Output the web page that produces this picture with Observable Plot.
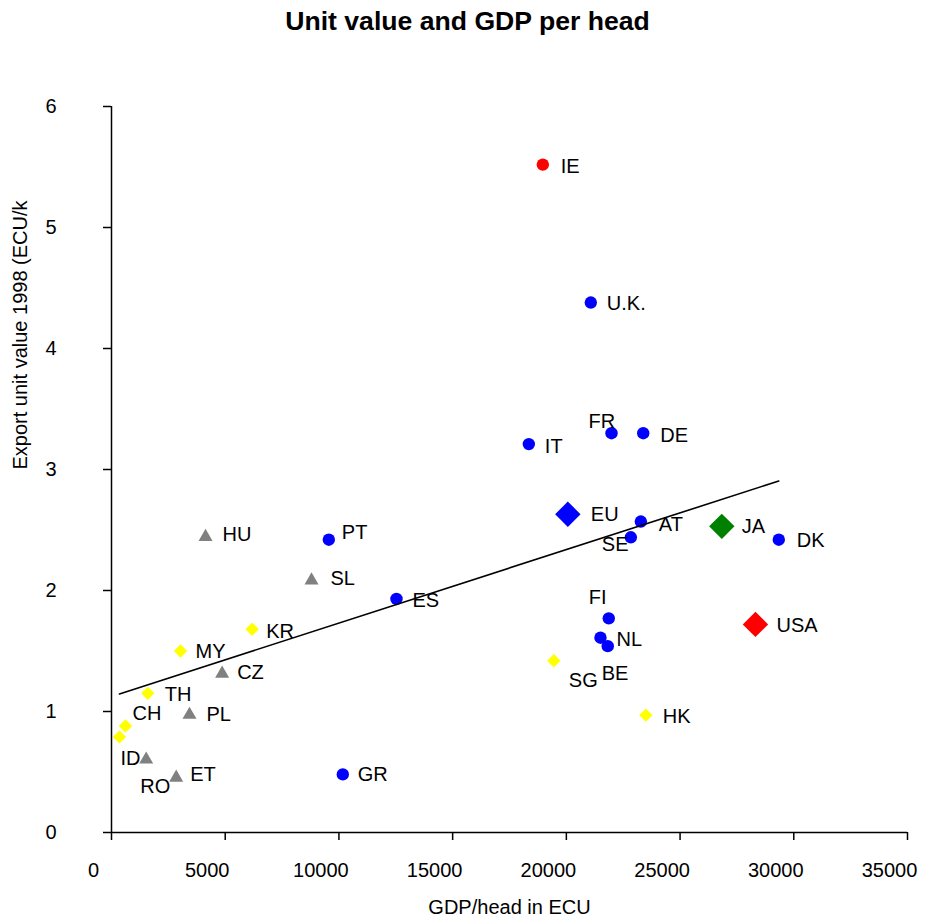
<!DOCTYPE html>
<html>
<head>
<meta charset="utf-8">
<script src="https://cdn.jsdelivr.net/npm/d3@7"></script>
<script src="https://cdn.jsdelivr.net/npm/@observablehq/plot@0.6"></script>
<style>
  html, body { margin: 0; padding: 0; background: #fff; }
  #title {
    box-sizing: border-box; height: 45px; width: 925px;
    padding-top: 8px; padding-left: 10px;
    font: bold 26.6px/26px Arial, "Liberation Sans", sans-serif;
    text-align: center; color: #000;
  }
  #chart svg { display: block; }
</style>
</head>
<body>
<div id="title">Unit value and GDP per head</div>
<div id="chart"></div>
<script>
// ---- data ----
const countries = ["U.K.","IT","FR","DE","AT","SE","DK","FI","NL","BE","PT","ES","GR",
  "IE","EU","JA","USA",
  "HU","SL","CZ","PL","RO","ET",
  "KR","MY","TH","CH","ID","SG","HK"];
const gdpPerHead = [21075,18350,21985,23380,23275,22835,29340,21865,21500,21820,9555,12530,10170,
  18965,20065,26835,28315,
  4135,8795,4865,3430,1525,2845,
  6185,3035,1595,615,350,19450,23495];
const unitValue = [4.38,3.21,3.30,3.30,2.57,2.44,2.42,1.77,1.61,1.54,2.42,1.93,0.48,
  5.52,2.63,2.53,1.72,
  2.46,2.10,1.33,0.99,0.62,0.47,
  1.68,1.50,1.15,0.88,0.79,1.42,0.97];
const groups = ["EU member","EU member","EU member","EU member","EU member","EU member","EU member",
  "EU member","EU member","EU member","EU member","EU member","EU member",
  "Ireland","EU15","Japan","USA",
  "CEEC","CEEC","CEEC","CEEC","CEEC","CEEC",
  "Asia","Asia","Asia","Asia","Asia","Asia","Asia"];
const trendGdp = [350, 29340];
const trendValue = [1.145, 2.905];
const xTicks = [0,5000,10000,15000,20000,25000,30000,35000];
const yTicks = [0,1,2,3,4,5,6];

// ---- styling / layout ----
const diamond = {draw(ctx, size) { const h = Math.sqrt(size / Math.PI);
  ctx.moveTo(0, -h); ctx.lineTo(h, 0); ctx.lineTo(0, h); ctx.lineTo(-h, 0); ctx.closePath(); }};
const triangle = {draw(ctx, size) { const s = Math.sqrt(size / Math.PI); const h = s * Math.sqrt(3);
  ctx.moveTo(0, -h / 2); ctx.lineTo(s, h / 2); ctx.lineTo(-s, h / 2); ctx.closePath(); }};
const groupStyle = {
  "EU member": {symbol: "circle", fill: "#0000ff", r: 6.2},
  "Ireland":   {symbol: "circle", fill: "#ff0000", r: 6.2},
  "EU15":      {symbol: diamond, fill: "#0000ff", r: 12.7},
  "Japan":     {symbol: diamond, fill: "#008000", r: 12.7},
  "USA":       {symbol: diamond, fill: "#ff0000", r: 12.7},
  "CEEC":      {symbol: triangle, fill: "#808080", r: 7},
  "Asia":      {symbol: diamond, fill: "#ffff00", r: 6.7}
};
const labelOffset = {
  "U.K.": [16, 1], "IT": [16, 3], "FR": [-23, -12], "DE": [17, 2], "AT": [18, 3], "SE": [-29, 7],
  "DK": [18, 1], "FI": [-20, -21], "NL": [16, 2], "BE": [-6, 27], "PT": [13, -7], "ES": [16, 2],
  "GR": [15, 0], "IE": [18, 2], "EU": [23, 0], "JA": [20, 0], "USA": [21, 1], "HU": [17, 0],
  "SL": [19, 0], "CZ": [15, 1], "PL": [17, 2], "RO": [-6, 29], "ET": [14, -1], "KR": [14, 2],
  "MY": [15, 1], "TH": [17, 1], "CH": [7, -12], "ID": [1, 22], "SG": [15, 20], "HK": [17, 1]
};

const points = countries.map((c, i) => ({country: c, gdp: gdpPerHead[i], value: unitValue[i], group: groups[i]}));
const trend = trendGdp.map((g, i) => ({gdp: g, value: trendValue[i]}));

const dotMarks = Object.keys(groupStyle).map(g => {
  const st = groupStyle[g];
  return Plot.dot(points.filter(d => d.group === g), {
    x: "gdp", y: "value", r: st.r, symbol: st.symbol, fill: st.fill, stroke: "none"
  });
});
const labelMarks = points.map(d => Plot.text([d], {
  x: "gdp", y: "value", text: "country", textAnchor: "start",
  dx: labelOffset[d.country][0], dy: labelOffset[d.country][1],
  fontSize: 20, fill: "#000", style: "letter-spacing:-1px"
}));

const chart = Plot.plot({
  width: 925, height: 877,
  marginTop: 61, marginBottom: 90, marginLeft: 111, marginRight: 18,
  style: {fontFamily: "Arial, 'Liberation Sans', sans-serif", fontSize: "20px", color: "#000", background: "#fff"},
  x: {domain: [0, 35000]},
  y: {domain: [0, 6]},
  marks: [
    Plot.ruleY([0], {stroke: "#000", strokeWidth: 1.5}),
    Plot.ruleX([0], {stroke: "#000", strokeWidth: 1.5}),
    // x tick marks (no text)
    Plot.axisX({ticks: xTicks, tickFormat: () => "", tickSize: 8, strokeWidth: 1.5, label: null}),
    // x tick labels, shifted left like the original
    Plot.axisX({ticks: xTicks, tickFormat: d3.format("d"), tickSize: 0, tickPadding: 30,
      fontSize: 20, dx: -18, label: null}),
    Plot.axisY({ticks: yTicks, tickFormat: d3.format("d"), tickSize: 8, tickPadding: 47,
      fontSize: 20, strokeWidth: 1.5, label: null}),
    ...dotMarks,
    Plot.line(trend, {x: "gdp", y: "value", stroke: "#000", strokeWidth: 1.6}),
    ...labelMarks,
    Plot.text(["GDP/head in ECU"], {frameAnchor: "bottom", dy: 75, fontSize: 20, lineAnchor: "middle"}),
    Plot.text(["Export unit value 1998 (ECU/k"], {frameAnchor: "left", dx: -91, rotate: -90, fontSize: 20, lineAnchor: "middle"})
  ]
});
document.getElementById("chart").appendChild(chart);
</script>
</body>
</html>
